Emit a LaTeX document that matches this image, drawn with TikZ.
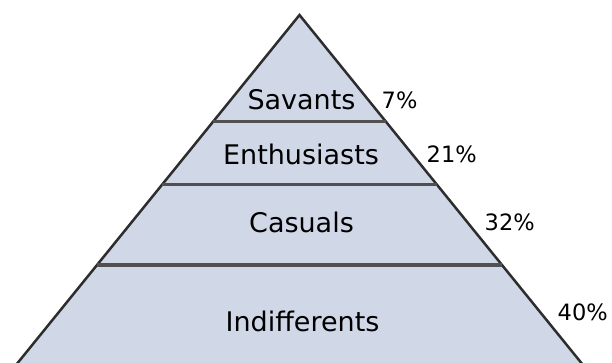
\documentclass[tikz,border=0pt]{standalone}
\usepackage{fontspec}
\setmainfont{DejaVu Sans}
\definecolor{layerfill}{RGB}{208,216,232}
\definecolor{edgegray}{RGB}{45,45,45}
\definecolor{bargray}{RGB}{80,80,80}
\newcommand*{\labelstyle}{\fontsize{27}{31}\selectfont}
\newcommand*{\sharestyle}{\fontsize{22.5}{26}\selectfont}
\tikzset{
  layer/.style  = {anchor=base, inner sep=0pt, font=\labelstyle},
  share/.style  = {anchor=base west, inner sep=0pt, font=\sharestyle},
  divider/.style = {bargray, line width=3.5pt},
}

\begin{document}
\begin{tikzpicture}[x=1pt, y=-1pt]
   \useasboundingbox (0,0) rectangle (612,362);
   \clip (0,0) rectangle (612,362);

   % pyramid: apex and (hidden) base corners
   \pgfmathsetmacro{\slope}{0.81}
   \coordinate (apex) at (299.5,15);
   \coordinate (baseL) at (299.5-\slope*385,400);
   \coordinate (baseR) at (299.5+\slope*385,400);
   \filldraw[fill=layerfill, draw=edgegray, line width=2.5pt, line join=miter]
      (baseL) -- (apex) -- (baseR);

   % layer dividers
   \foreach \name/\y in {one/121.5, two/184.3, three/265} {
      \coordinate (\name L) at (299.5-\slope*\y+\slope*15,\y);
      \coordinate (\name R) at (299.5+\slope*\y-\slope*15,\y);
      \draw[divider] (\name L) -- (\name R);
   }

   % names of the layers
   \node[layer] (savants)  at (301.5,109)   {Savants};
   \node[layer] (enthus)   at (301,164.7) {Enthusiasts};
   \node[layer] (casuals)  at (301.5,232.7) {Casuals};
   \node[layer] (indiff)   at (302.5,331.7) {Indifferents};

   % shares
   \node[share] (p7)  at (381.5,108.3) {7\%};
   \node[share] (p21) at (426.5,162)   {21\%};
   \node[share] (p32) at (484.5,230)   {32\%};
   \node[share] (p40) at (557.5,320.7) {40\%};
\end{tikzpicture}
\end{document}
